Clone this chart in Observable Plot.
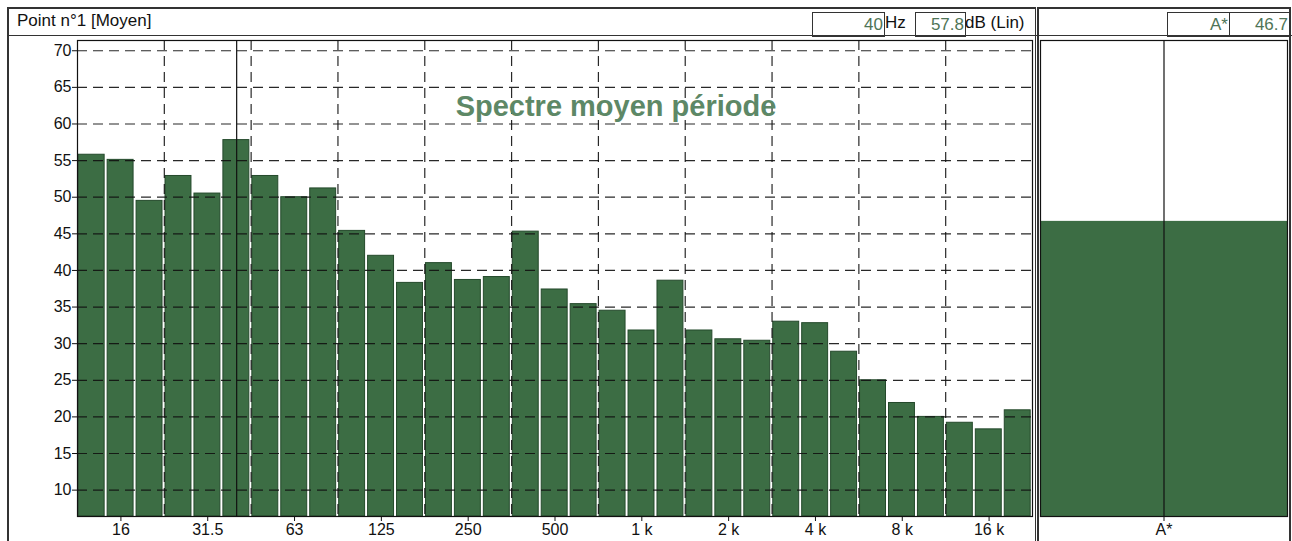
<!DOCTYPE html>
<html><head><meta charset="utf-8">
<script src="https://cdn.jsdelivr.net/npm/d3@7"></script>
<script src="https://cdn.jsdelivr.net/npm/@observablehq/plot@0.6"></script>
<style>
body{margin:0;background:#fff;font-family:"Liberation Sans",Arial,sans-serif;}
#wrap{position:relative;width:1292px;height:541px;overflow:hidden;background:#fff;}
.abs{position:absolute;box-sizing:border-box;}
.hdr{font-size:17px;color:#111;line-height:24px;white-space:nowrap;}
.box{border:1px solid #333;text-align:right;color:#4e7456;font-size:17px;line-height:23px;padding-right:1px;}
svg{position:absolute;}
</style></head><body><div id="wrap"></div>
<script>
// ---- data ----
const bands = ["12.5","16","20","25","31.5","40","50","63","80","100","125","160","200","250","315","400","500","630","800","1k","1.25k","1.6k","2k","2.5k","3.15k","4k","5k","6.3k","8k","10k","12.5k","16k","20k"];
const levels = [55.8,55.1,49.5,52.9,50.5,57.8,52.9,50.0,51.2,45.4,42.0,38.3,41.0,38.7,39.1,45.3,37.4,35.4,34.5,31.8,38.6,31.8,30.6,30.4,33.0,32.8,28.9,25.0,21.9,20.0,19.2,18.3,20.9];
const tickBands = ["16","31.5","63","125","250","500","1k","2k","4k","8k","16k"];
const tickLabels = ["16","31.5","63","125","250","500","1 k","2 k","4 k","8 k","16 k"];
const gridBands = ["25","50","100","200","400","800","1.6k","3.15k","6.3k","12.5k"];
const yTicks = [10,15,20,25,30,35,40,45,50,55,60,65,70];
const yDomain = [6.4,71.4];
const cursorBand = "40";
const cursorUnit = "Hz";
const levelUnit = "dB (Lin)";
const globalLabel = "A*";
const globalValue = 46.7;
const headerTitle = "Point n°1 [Moyen]";
const chartTitle = "Spectre moyen période";

const green = "#3c6d44";
const greenStroke = "#24492b";
const dash = "10,6";

const wrap = document.getElementById("wrap");
function div(cls, css, text){
  const d=document.createElement("div"); d.className="abs "+cls; d.style.cssText=css; if(text!=null) d.textContent=text; wrap.appendChild(d); return d;
}

// ---- main spectrum ----
const data = bands.map((b,i)=>({band:b, i, level:levels[i]}));
const tickPos = tickBands.map(b=>bands.indexOf(b)+0.5);
const gridPos = gridBands.map(b=>bands.indexOf(b));
const cursorIdx = bands.indexOf(cursorBand);
const cursorValue = levels[cursorIdx];

const main = Plot.plot({
  width:1036, height:505, marginLeft:77, marginRight:4, marginTop:4, marginBottom:25,
  style:{fontFamily:"Liberation Sans, Arial, sans-serif", fontSize:"16px", background:"transparent", color:"#111", overflow:"visible"},
  x:{domain:[0,bands.length], axis:null},
  y:{domain:yDomain, axis:null},
  marks:[
    Plot.rect(data,{x1:"i", x2:d=>d.i+1, y1:()=>yDomain[0], y2:"level", fill:green, stroke:greenStroke, strokeWidth:1, insetLeft:1.2, insetRight:1.8}),
    Plot.ruleY(yTicks,{stroke:"#111", strokeDasharray:dash, strokeWidth:1.2, strokeOpacity:0.9}),
    Plot.ruleX(gridPos,{stroke:"#111", strokeDasharray:dash, strokeWidth:1.2, strokeOpacity:0.9}),
    Plot.ruleX([cursorIdx+0.5],{stroke:"#111", strokeWidth:1.2}),
    Plot.frame({stroke:"#111", strokeWidth:1.2}),
    Plot.text([chartTitle],{frameAnchor:"top", dx:61, dy:66, lineAnchor:"middle", fontSize:29, fontWeight:"bold", fill:"#5d8866"}),
    Plot.axisY({ticks:yTicks, tickSize:5, tickPadding:1, label:null, fontSize:16, tickFormat:d=>String(d)}),
    Plot.axisX({ticks:tickPos, tickSize:5, tickPadding:2, label:null, fontSize:16, tickFormat:p=>tickLabels[tickPos.indexOf(p)]})
  ]
});
main.style.left="0px"; main.style.top="36px";
wrap.appendChild(main);

// ---- global (A*) panel ----
const gdata=[{label:globalLabel, value:globalValue}];
const right = Plot.plot({
  width:256, height:505, marginLeft:4, marginRight:5, marginTop:4, marginBottom:25,
  style:{fontFamily:"Liberation Sans, Arial, sans-serif", fontSize:"16px", background:"transparent", color:"#111", overflow:"visible"},
  x:{type:"band", domain:[globalLabel], padding:0, axis:null},
  y:{domain:yDomain, axis:null},
  marks:[
    Plot.barY(gdata,{x:"label", y1:()=>yDomain[0], y2:"value", fill:green}),
    Plot.ruleX(gdata,{x:"label", stroke:"#111", strokeWidth:1.2}),
    Plot.frame({stroke:"#111", strokeWidth:1.2}),
    Plot.axisX({tickSize:5, tickPadding:2, label:null, fontSize:16})
  ]
});
right.style.left="1036px"; right.style.top="36px";
wrap.appendChild(right);

// ---- panel frames & header ----
div("", "left:7px;top:7px;width:1029px;height:600px;border:2px solid #333;border-right-width:1.5px;");
div("", "left:1037px;top:7px;width:254px;height:600px;border:2px solid #333;");
div("", "left:7px;top:35px;width:1285px;height:0;border-top:1.5px solid #333;");
div("hdr", "left:17px;top:9px;", headerTitle);
div("box", "left:812px;top:12px;width:73px;height:25px;", cursorBand);
div("hdr", "left:885px;top:11px;", cursorUnit);
div("box", "left:915px;top:12px;width:51px;height:25px;", cursorValue.toFixed(1));
div("hdr", "left:965px;top:11px;", levelUnit);
div("box", "left:1167px;top:12px;width:63px;height:25px;", globalLabel);
div("box", "left:1229px;top:12px;width:61px;height:25px;", String(globalValue));
</script></body></html>
